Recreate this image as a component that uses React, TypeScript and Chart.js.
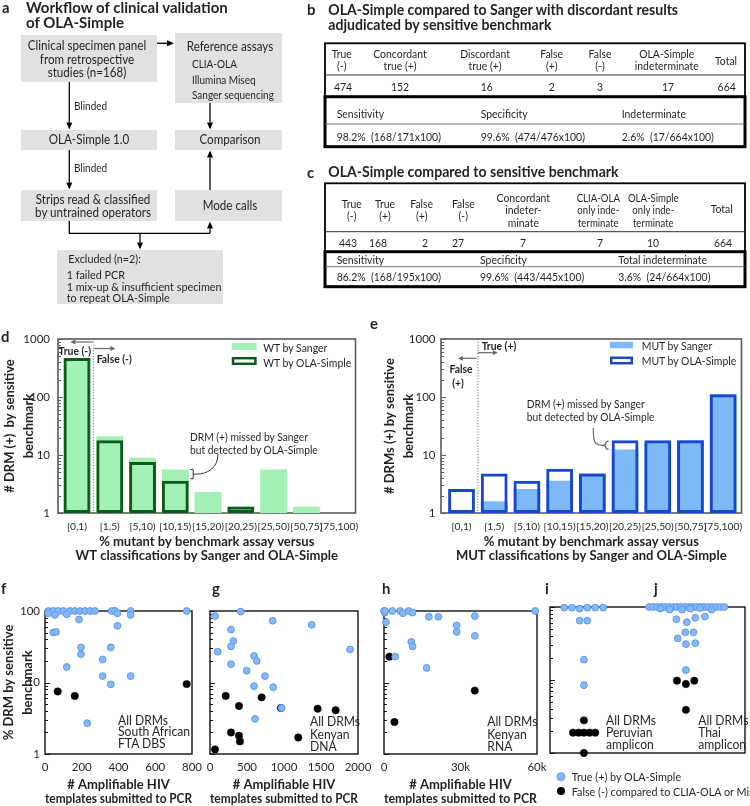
import React, { useEffect, useRef } from 'react';
import { Chart, registerables } from 'chart.js';

Chart.register(...registerables);

const FONT = 'Lato, "Noto Sans", sans-serif';
const W = 750;
const H = 806;
const INK = '#231f20';
Chart.defaults.font.family = FONT;
Chart.defaults.color = INK;

// ---------- panels d / e : # DRMs per % mutant bin ----------
const binLabels = ['[0,1)', '[1,5)', '[5,10)', '[10,15)', '[15,20)', '[20,25)', '[25,50)', '[50,75)', '[75,100)'];
const wtSanger = [470, 21, 9, 5.6, 2.3, 1.3, 5.6, 1.28, null];
const wtOla = [470, 18, 7.6, 3.6, null, 1.3, null, null, null];
const mutSanger = [null, 1.6, 2.6, 3.6, 4.8, 12.5, 16.5, 18, 112];
const mutOla = [2.6, 4.8, 3.6, 5.8, 4.8, 18, 18, 18, 112];
const barYTicks = [1, 10, 100, 1000];

// ---------- panels f-j : [templates (or column offset), % DRM] ----------
const fTrue = [[18, 100], [45, 100], [72, 100], [100, 100], [136, 100], [163, 100], [190, 100], [218, 100], [245, 100], [272, 100], [363, 100], [381, 100], [466, 100], [771, 100], [18, 93], [54, 88], [118, 90], [394, 93], [466, 88], [185, 76], [394, 62], [45, 50], [60, 51], [196, 31], [196, 25], [358, 31], [314, 21], [118, 16.5], [314, 12.3], [466, 12.3], [358, 9.4], [230, 2.7]];
const fFalse = [[69, 7.5], [162, 6.5], [771, 9.5]];
const fXTicks = [0, 200, 400, 600, 800];

const gTrue = [[68, 85], [415, 98], [847, 73], [1374, 64], [1892, 29], [104, 27], [284, 55], [315, 38], [284, 32], [284, 18], [595, 23.5], [631, 20], [496, 14.6], [743, 12.3], [595, 8.9], [855, 8.6], [608, 3.1], [969, 4.4]];
const gFalse = [[212, 6.5], [698, 6.2], [392, 4.7], [284, 2.0], [392, 1.8], [405, 1.5], [68, 1.16], [959, 4.4], [1455, 4.3], [1698, 4.1], [1193, 1.7]];
const gXTicks = [0, 500, 1000, 1500, 2000];

const hTrue = [[0, 100], [300, 95], [400, 100], [3300, 100], [6350, 100], [9650, 100], [7400, 93], [11200, 95], [800, 70], [17600, 83], [21300, 83], [28500, 63], [28500, 51], [35600, 85], [35600, 45], [59300, 100], [10700, 37], [11200, 32], [4400, 23], [16700, 16]];
const hFalse = [[2100, 23], [35600, 7.7], [4100, 2.8]];
const hXTicks = [0, 30000, 60000];
const hXLabels = ['0', '30k', '60k'];

const ijTrue = [[7.3, 98], [11.3, 98], [19.1, 98], [23.2, 98], [27.3, 98], [15.2, 95], [15.2, 65], [19.1, 65], [17.4, 19], [17.4, 8.5],
  [50.8, 100], [52.8, 100], [54.9, 100], [56.9, 100], [58.9, 100], [61.0, 100], [63.0, 100], [65.0, 100], [67.0, 100], [69.1, 100], [71.1, 100], [73.1, 100], [75.2, 100], [77.2, 100], [79.2, 100], [81.2, 100], [83.3, 100], [85.3, 100], [87.3, 100], [89.4, 100],
  [56.7, 95], [61.3, 92], [67.7, 92], [71.9, 95], [77, 97], [82.9, 92], [79.5, 74], [74.5, 71], [64.8, 68], [70.2, 62], [69.4, 45], [73.6, 45], [65.5, 37], [69.7, 31], [74.5, 32], [69.7, 13.7]];
const ijFalse = [[17.4, 2.8], [11.8, 1.9], [14.7, 1.9], [17.4, 1.9], [20.3, 1.9], [23.2, 1.9], [17.4, 1.0],
  [65.1, 9.8], [69.7, 8.8], [74, 9.8], [69.7, 3.9]];
const dotYTicks = [1, 10, 100];

const BLUE = '#86b8f6';
const BLUE_EDGE = '#5c98ec';
const BAR_PCT = 0.82;

const noPlugins = { legend: { display: false }, tooltip: { enabled: false }, title: { display: false } };

function cArrow(ctx: any, x1: number, y1: number, x2: number, y2: number, color: string) {
  const ang = Math.atan2(y2 - y1, x2 - x1);
  const h = 5, hw = 2.4;
  const bx = x2 - h * Math.cos(ang), by = y2 - h * Math.sin(ang);
  ctx.strokeStyle = color; ctx.fillStyle = color; ctx.lineWidth = 1.2;
  ctx.beginPath(); ctx.moveTo(x1, y1); ctx.lineTo(bx, by); ctx.stroke();
  ctx.beginPath(); ctx.moveTo(x2, y2);
  ctx.lineTo(bx - Math.sin(ang) * hw, by + Math.cos(ang) * hw);
  ctx.lineTo(bx + Math.sin(ang) * hw, by - Math.cos(ang) * hw);
  ctx.closePath(); ctx.fill();
}

function decor(frameColor: string, frameWidth: number, extra?: (c: any) => void) {
  return {
    id: 'decor',
    beforeDatasetsDraw(chart: any) {
      const { ctx, chartArea: a } = chart;
      const y = chart.scales.y;
      ctx.save();
      ctx.strokeStyle = frameColor;
      ctx.lineWidth = frameWidth;
      ctx.strokeRect(a.left, a.top, a.right - a.left, a.bottom - a.top);
      ctx.lineWidth = 1;
      const lo = Math.round(Math.log10(y.min));
      const hi = Math.round(Math.log10(y.max));
      for (let d = lo; d <= hi; d++) {
        for (let m = 1; m <= 9; m++) {
          const v = m * Math.pow(10, d);
          if (v > y.max * 1.0001) continue;
          const py = Math.round(y.getPixelForValue(v)) + 0.5;
          const len = m === 1 ? 5 : 3;
          ctx.beginPath(); ctx.moveTo(a.left, py); ctx.lineTo(a.left + len, py); ctx.stroke();
        }
      }
      ctx.restore();
    },
    afterDatasetsDraw(chart: any) {
      if (extra) { chart.ctx.save(); extra(chart); chart.ctx.restore(); }
    },
  };
}

const tickFont = { family: FONT, size: 11.5 };
const titleFont = (lh: number) => ({ family: FONT, size: 13, weight: 'bold' as const, lineHeight: lh });

function logY(max: number, ticks: number[], yw: number, showLabels: boolean, title: string[] | null, pad: number, lh = 1.45) {
  return {
    type: 'logarithmic', min: 1, max,
    afterBuildTicks: (s: any) => { s.ticks = ticks.map((v) => ({ value: v })); },
    afterFit: (s: any) => { s.width = yw; },
    ticks: { display: showLabels, padding: pad, autoSkip: false, font: tickFont, color: INK, callback: (v: any) => String(v) },
    grid: { display: false, drawTicks: false },
    border: { display: false },
    title: title ? { display: true, text: title, padding: 0, color: INK, font: titleFont(lh) } : { display: false },
  };
}

function linX(min: number, max: number, ticks: number[], labels: string[] | null, xh: number, title: string[] | null, pad: number, fontSize = 11.5) {
  return {
    type: 'linear', min, max, offset: false,
    afterBuildTicks: (s: any) => { s.ticks = ticks.map((v) => ({ value: v })); },
    afterFit: (s: any) => { s.height = xh; },
    ticks: { display: !!labels, padding: pad, autoSkip: false, maxRotation: 0, minRotation: 0, font: { family: FONT, size: fontSize }, color: INK, callback: (_v: any, i: number) => (labels ? labels[i] : '') },
    grid: { display: false, drawTicks: false },
    border: { display: false },
    title: title ? { display: true, text: title, padding: 0, color: INK, font: titleFont(1.1) } : { display: false },
  };
}

function toXY(arr: (number | null)[]) {
  return arr.map((v, i) => (v == null ? null : { x: i, y: v })).filter(Boolean);
}

function barConfig(kind: 'd' | 'e') {
  const isD = kind === 'd';
  const L = isD ? 58 : 441, R = isD ? 355.5 : 741.5, T = 339, B = 513;
  const yw = isD ? 58 : 60.5;
  const xh = 50;
  const sanger = isD ? wtSanger : mutSanger;
  const ola = isD ? wtOla : mutOla;
  const fill = isD ? '#a2f0b5' : '#7cb9f6';
  const edge = isD ? '#0e5a1c' : '#1748c9';
  const extra = (chart: any) => {
    const { ctx, chartArea: a, scales: { x, y } } = chart;
    const dx = x.getPixelForValue(0.5);
    ctx.setLineDash([1.2, 1.6]); ctx.strokeStyle = '#666'; ctx.lineWidth = 0.9;
    ctx.beginPath(); ctx.moveTo(dx, a.top); ctx.lineTo(dx, a.bottom); ctx.stroke();
    ctx.setLineDash([]);
    const unit = x.getPixelForValue(1) - x.getPixelForValue(0);
    const half = unit * BAR_PCT / 2;
    ctx.strokeStyle = '#333'; ctx.lineWidth = 1;
    if (isD) {
      cArrow(ctx, dx - 1, a.top + 3, dx - 23, a.top + 3, '#666');
      cArrow(ctx, dx + 1, a.top + 9.5, dx + 22, a.top + 9.5, '#666');
      const bx = x.getPixelForValue(3) + half + 4.5;
      const yt = y.getPixelForValue(wtSanger[3] as number);
      const yb = y.getPixelForValue(wtOla[3] as number) - 2;
      const ym = (yt + yb) / 2;
      ctx.strokeStyle = '#333'; ctx.lineWidth = 1;
      ctx.beginPath();
      ctx.moveTo(bx - 3, yt); ctx.lineTo(bx, yt); ctx.lineTo(bx, yb); ctx.lineTo(bx - 3, yb);
      ctx.moveTo(bx, ym); ctx.lineTo(bx + 3, ym);
      ctx.bezierCurveTo(bx + 14, ym, 218, ym - 6, 218, 454);
      ctx.stroke();
    } else {
      cArrow(ctx, dx, a.top + 13.7, dx + 20, a.top + 13.7, '#666');
      cArrow(ctx, dx - 1.5, a.top + 19.3, dx - 20, a.top + 19.3, '#666');
      const bx = x.getPixelForValue(5) - half - 6;
      const yt = y.getPixelForValue(mutOla[5] as number) + 1;
      const yb = y.getPixelForValue(mutSanger[5] as number);
      const ym = (yt + yb) / 2;
      ctx.beginPath();
      ctx.moveTo(bx + 3, yt); ctx.quadraticCurveTo(bx, yt, bx, yt + 3);
      ctx.lineTo(bx, ym - 2); ctx.quadraticCurveTo(bx, ym, bx - 3, ym);
      ctx.quadraticCurveTo(bx, ym, bx, ym + 2);
      ctx.lineTo(bx, yb - 3); ctx.quadraticCurveTo(bx, yb, bx + 3, yb);
      ctx.moveTo(bx - 3, ym);
      ctx.bezierCurveTo(bx - 12, ym, 593.3, ym - 5, 593.3, 428);
      ctx.stroke();
    }
  };
  return {
    type: 'bar',
    data: {
      datasets: [
        { label: isD ? 'WT by OLA-Simple' : 'MUT by OLA-Simple', data: toXY(ola), backgroundColor: 'rgba(0,0,0,0)', borderColor: edge, borderWidth: 3, borderSkipped: false, grouped: false, barPercentage: BAR_PCT, categoryPercentage: 1, order: 0 },
        { label: isD ? 'WT by Sanger' : 'MUT by Sanger', data: toXY(sanger), backgroundColor: fill, borderWidth: 0, grouped: false, barPercentage: BAR_PCT, categoryPercentage: 1, order: 1 },
      ],
    },
    options: {
      responsive: false, animation: false, devicePixelRatio: 1, events: [],
      layout: { padding: { left: L - yw, top: T, right: W - R, bottom: H - B - xh } },
      plugins: noPlugins,
      scales: {
        x: linX(isD ? -0.58 : -0.627, isD ? 8.5 : 8.56, binLabels.map((_, i) => i), binLabels, xh,
          ['% mutant by benchmark assay versus', isD ? 'WT classifications by Sanger and OLA-Simple' : 'MUT classifications by Sanger and OLA-Simple'], 7, 10.3),
        y: logY(1000, barYTicks, yw, true, [isD ? '# DRM (+)  by sensitive' : '# DRMs (+) by sensitive', 'benchmark'], isD ? 8 : 5.5, 1.46),
      },
    },
    plugins: [decor('#5a5a5a', 1.6, extra)],
  };
}

function dotConfig(p: { L: number; T: number; R: number; B: number; yw: number; xh: number; xMin: number; xMax: number; xTicks: number[]; xLabels: string[] | null; yLabels: boolean; yTitle: string[] | null; xTitle: string[] | null; pos: number[][]; neg: number[][] }) {
  return {
    type: 'scatter',
    data: {
      datasets: [
        { data: p.pos.map(([x, y]) => ({ x, y })), pointRadius: 3.4, pointBackgroundColor: BLUE, pointBorderColor: BLUE_EDGE, pointBorderWidth: 1, clip: false },
        { data: p.neg.map(([x, y]) => ({ x, y })), pointRadius: 3.7, pointBackgroundColor: '#000', pointBorderColor: '#000', pointBorderWidth: 0.5, clip: false },
      ],
    },
    options: {
      responsive: false, animation: false, devicePixelRatio: 1, events: [],
      layout: { padding: { left: p.L - p.yw, top: p.T, right: W - p.R, bottom: H - p.B - p.xh } },
      plugins: noPlugins,
      scales: {
        x: linX(p.xMin, p.xMax, p.xTicks, p.xLabels, p.xh, p.xTitle, 6.5),
        y: logY(100, dotYTicks, p.yw, p.yLabels, p.yTitle, 5, 1.42),
      },
    },
    plugins: [decor('#111', 1.4)],
  };
}

const XT = ['# Amplifiable HIV', 'templates submitted to PCR'];

const chartBuilders = [
  () => barConfig('d'),
  () => barConfig('e'),
  () => dotConfig({ L: 45, T: 611, R: 192, B: 754, yw: 45, xh: 52, xMin: 0, xMax: 800, xTicks: fXTicks, xLabels: fXTicks.map(String), yLabels: true, yTitle: ['% DRM by sensitive', 'benchmark'], xTitle: XT, pos: fTrue, neg: fFalse }),
  () => dotConfig({ L: 210, T: 611, R: 358, B: 754, yw: 0, xh: 52, xMin: 0, xMax: 2000, xTicks: gXTicks, xLabels: gXTicks.map(String), yLabels: false, yTitle: null, xTitle: XT, pos: gTrue, neg: gFalse }),
  () => dotConfig({ L: 384, T: 611, R: 537, B: 754, yw: 0, xh: 52, xMin: 0, xMax: 60000, xTicks: hXTicks, xLabels: hXLabels, yLabels: false, yTitle: null, xTitle: XT, pos: hTrue, neg: hFalse }),
  () => dotConfig({ L: 550, T: 607, R: 747, B: 753, yw: 0, xh: 0, xMin: 0, xMax: 100, xTicks: [], xLabels: null, yLabels: false, yTitle: null, xTitle: null, pos: ijTrue, neg: ijFalse }),
];

function ChartLayer({ build }: { build: () => any }) {
  const ref = useRef<HTMLCanvasElement>(null);
  useEffect(() => {
    const chart = new Chart(ref.current as HTMLCanvasElement, build());
    return () => chart.destroy();
  }, []);
  return <canvas ref={ref} width={W} height={H} style={{ position: 'absolute', left: 0, top: 0, width: W, height: H }} />;
}

// ---------- SVG helpers ----------
function Tx(p: { x: number; y: number; s?: number; b?: boolean; a?: 'start' | 'middle' | 'end'; c?: string; k?: number; children: any }) {
  const k = p.k ?? (p.b ? 0.96 : 0.87);
  return (
    <text x={0} y={0} transform={`translate(${p.x} ${p.y}) scale(${k} 1)`} fontSize={p.s ?? 12} fontWeight={p.b ? 700 : 400} textAnchor={p.a ?? 'start'} dominantBaseline="central" fill={p.c ?? INK} fontFamily={FONT} style={{ whiteSpace: 'pre' }}>
      {p.children}
    </text>
  );
}

function Arrow({ x1, y1, x2, y2 }: { x1: number; y1: number; x2: number; y2: number }) {
  const ang = Math.atan2(y2 - y1, x2 - x1);
  const h = 7, hw = 3;
  const bx = x2 - h * Math.cos(ang), by = y2 - h * Math.sin(ang);
  const px = -Math.sin(ang) * hw, py = Math.cos(ang) * hw;
  return (
    <g>
      <line x1={x1} y1={y1} x2={bx} y2={by} stroke="#000" strokeWidth={1.3} />
      <polygon points={`${x2},${y2} ${bx + px},${by + py} ${bx - px},${by - py}`} fill="#000" />
    </g>
  );
}

const BOX = '#e1e1e1';
const TS = 12; // table text size
const NK = 0.97; // in-plot note compression

function Overlay() {
  return (
    <svg width={W} height={H} style={{ position: 'absolute', left: 0, top: 0 }}>
      {/* ---- panel a ---- */}
      <Tx x={2} y={6.5} s={15.5} b>a</Tx>
      <Tx x={26} y={6.5} s={15} b k={1}>Workflow of clinical validation</Tx>
      <Tx x={26} y={21.5} s={15} b k={1}>of OLA-Simple</Tx>
      <rect x={21} y={35} width={136} height={47} fill={BOX} />
      <rect x={175} y={33} width={107} height={70} fill={BOX} />
      <rect x={21} y={130} width={136} height={20} fill={BOX} />
      <rect x={175} y={130} width={107} height={20} fill={BOX} />
      <rect x={21} y={190} width={136} height={31} fill={BOX} />
      <rect x={175} y={190} width={107} height={31} fill={BOX} />
      <rect x={57} y={250} width={166} height={54} fill={BOX} />
      <Tx x={87} y={45.7} a="middle" s={12.5} k={0.93}>Clinical specimen panel</Tx>
      <Tx x={87} y={59.3} a="middle" s={12.5} k={0.93}>from retrospective</Tx>
      <Tx x={87} y={72.7} a="middle" s={12.5} k={0.93}>studies (n=168)</Tx>
      <Tx x={230} y={46.7} a="middle" s={12.5} k={0.93}>Reference assays</Tx>
      <Tx x={192} y={63.3} s={11.5}>CLIA-OLA</Tx>
      <Tx x={192} y={79} s={11.5}>Illumina Miseq</Tx>
      <Tx x={192} y={94.3} s={11.5}>Sanger sequencing</Tx>
      <Tx x={89} y={139.3} a="middle" s={12.5} k={0.93}>OLA-Simple 1.0</Tx>
      <Tx x={230} y={139.3} a="middle" s={12.5} k={0.93}>Comparison</Tx>
      <Tx x={93} y={199} a="middle" s={12.5} k={0.93}>Strips read &amp; classified</Tx>
      <Tx x={93} y={212.3} a="middle" s={12.5} k={0.93}>by untrained operators</Tx>
      <Tx x={230} y={205.7} a="middle" s={12.5} k={0.93}>Mode calls</Tx>
      <Tx x={68.3} y={258.3} s={11.5} k={0.94}>Excluded (n=2):</Tx>
      <Tx x={66.7} y={274.3} s={11.5} k={0.94}>1 failed PCR</Tx>
      <Tx x={66.7} y={286.3} s={11.5} k={0.94}>1 mix-up &amp; insufficient specimen</Tx>
      <Tx x={66.7} y={296.9} s={11.5} k={0.94}>to repeat OLA-Simple</Tx>
      <Tx x={74} y={105} s={11.5}>Blinded</Tx>
      <Tx x={74} y={167.3} s={11.5}>Blinded</Tx>
      <Arrow x1={157} y1={43.3} x2={174} y2={43.3} />
      <Arrow x1={69.3} y1={82} x2={69.3} y2={129.5} />
      <Arrow x1={69.3} y1={150} x2={69.3} y2={189.5} />
      <Arrow x1={210} y1={103} x2={210} y2={129.5} />
      <Arrow x1={210} y1={190} x2={210} y2={150.5} />
      <polyline points="69.3,221 69.3,233.3 210,233.3" fill="none" stroke="#000" strokeWidth={1.3} />
      <Arrow x1={210} y1={233.3} x2={210} y2={221.5} />
      <Arrow x1={140} y1={233.3} x2={140} y2={249.5} />

      {/* ---- panel b ---- */}
      <Tx x={307} y={9.3} s={15.5} b>b</Tx>
      <Tx x={328.3} y={9.3} s={15} b k={0.94}>OLA-Simple compared to Sanger with discordant results</Tx>
      <Tx x={328.3} y={24} s={15} b k={0.94}>adjudicated by sensitive benchmark</Tx>
      <rect x={325} y={43.3} width={420} height={103.4} fill="none" stroke="#000" strokeWidth={1.8} />
      <line x1={325} y1={75} x2={745} y2={75} stroke="#333" strokeWidth={1} />
      <rect x={325} y={96.7} width={420} height={50} fill="none" stroke="#000" strokeWidth={3} />
      <line x1={325} y1={124} x2={745} y2={124} stroke="#555" strokeWidth={0.8} />
      <Tx s={TS} x={341.7} y={53.3} a="middle">True</Tx><Tx s={TS} x={341.7} y={65} a="middle">(-)</Tx>
      <Tx s={TS} x={400} y={53.3} a="middle">Concordant</Tx><Tx s={TS} x={400} y={65} a="middle">true (+)</Tx>
      <Tx s={TS} x={485} y={53.3} a="middle">Discordant</Tx><Tx s={TS} x={485} y={65} a="middle">true (+)</Tx>
      <Tx s={TS} x={551.7} y={53.3} a="middle">False</Tx><Tx s={TS} x={551.7} y={65} a="middle">(+)</Tx>
      <Tx s={TS} x={600} y={53.3} a="middle">False</Tx><Tx s={TS} x={600} y={65} a="middle">(-)</Tx>
      <Tx s={TS} x={666.7} y={53.3} a="middle">OLA-Simple</Tx><Tx s={TS} x={666.7} y={65} a="middle">indeterminate</Tx>
      <Tx s={TS} x={726} y={60} a="middle">Total</Tx>
      <Tx s={TS} x={343} y={86} a="middle">474</Tx>
      <Tx s={TS} x={400} y={86} a="middle">152</Tx>
      <Tx s={TS} x={486.7} y={86} a="middle">16</Tx>
      <Tx s={TS} x={551.7} y={86} a="middle">2</Tx>
      <Tx s={TS} x={600} y={86} a="middle">3</Tx>
      <Tx s={TS} x={668} y={86} a="middle">17</Tx>
      <Tx s={TS} x={726.7} y={86} a="middle">664</Tx>
      <Tx s={TS} x={336.7} y={112.7}>Sensitivity</Tx>
      <Tx s={TS} x={480.7} y={112.7}>Specificity</Tx>
      <Tx s={TS} x={621.7} y={112.7}>Indeterminate</Tx>
      <Tx s={TS} x={336.7} y={136}>98.2%  (168/171x100)</Tx>
      <Tx s={TS} x={480.7} y={136}>99.6%  (474/476x100)</Tx>
      <Tx s={TS} x={621.7} y={136}>2.6%  (17/664x100)</Tx>

      {/* ---- panel c ---- */}
      <Tx x={307} y={171.7} s={15.5} b>c</Tx>
      <Tx x={328.3} y={171.7} s={15} b k={0.94}>OLA-Simple compared to sensitive benchmark</Tx>
      <rect x={325} y={183.3} width={420} height={103.4} fill="none" stroke="#000" strokeWidth={1.8} />
      <line x1={325} y1={231.7} x2={745} y2={231.7} stroke="#333" strokeWidth={1} />
      <rect x={325} y={251.7} width={420} height={35} fill="none" stroke="#000" strokeWidth={3} />
      <line x1={325} y1={266.7} x2={745} y2={266.7} stroke="#555" strokeWidth={0.8} />
      <Tx s={TS} x={351.7} y={203.3} a="middle">True</Tx><Tx s={TS} x={351.7} y={215} a="middle">(-)</Tx>
      <Tx s={TS} x={385} y={203.3} a="middle">True</Tx><Tx s={TS} x={385} y={215} a="middle">(+)</Tx>
      <Tx s={TS} x={421.7} y={203.3} a="middle">False</Tx><Tx s={TS} x={421.7} y={215} a="middle">(+)</Tx>
      <Tx s={TS} x={463.3} y={203.3} a="middle">False</Tx><Tx s={TS} x={463.3} y={215} a="middle">(-)</Tx>
      <Tx s={TS} x={523.3} y={196.7} a="middle">Concordant</Tx><Tx s={TS} x={523.3} y={209} a="middle">indeter-</Tx><Tx s={TS} x={523.3} y={221.7} a="middle">minate</Tx>
      <Tx s={TS} x={598.3} y={196.7} a="middle" k={0.8}>CLIA-OLA</Tx><Tx s={TS} x={598.3} y={209} a="middle" k={0.8}>only inde-</Tx><Tx s={TS} x={598.3} y={221.7} a="middle" k={0.8}>terminate</Tx>
      <Tx s={TS} x={653.3} y={196.7} a="middle" k={0.8}>OLA-Simple</Tx><Tx s={TS} x={653.3} y={209} a="middle" k={0.8}>only inde-</Tx><Tx s={TS} x={653.3} y={221.7} a="middle" k={0.8}>terminate</Tx>
      <Tx s={TS} x={721.7} y={208.3} a="middle">Total</Tx>
      <Tx s={TS} x={348} y={241.7} a="middle">443</Tx>
      <Tx s={TS} x={378} y={241.7} a="middle">168</Tx>
      <Tx s={TS} x={425} y={241.7} a="middle">2</Tx>
      <Tx s={TS} x={458} y={241.7} a="middle">27</Tx>
      <Tx s={TS} x={523} y={241.7} a="middle">7</Tx>
      <Tx s={TS} x={600} y={241.7} a="middle">7</Tx>
      <Tx s={TS} x={653} y={241.7} a="middle">10</Tx>
      <Tx s={TS} x={723} y={241.7} a="middle">664</Tx>
      <Tx s={TS} x={336.7} y={259.5}>Sensitivity</Tx>
      <Tx s={TS} x={480} y={259.5}>Specificity</Tx>
      <Tx s={TS} x={618.3} y={259.5}>Total indeterminate</Tx>
      <Tx s={TS} x={336.7} y={276}>86.2%  (168/195x100)</Tx>
      <Tx s={TS} x={480} y={276}>99.6%  (443/445x100)</Tx>
      <Tx s={TS} x={618.3} y={276}>3.6%  (24/664x100)</Tx>

      {/* ---- panel d extras ---- */}
      <Tx x={1} y={336} s={15.5} b>d</Tx>
      <rect x={231.7} y={343} width={25} height={7} fill="#a2f0b5" />
      <Tx x={263.3} y={346.7} s={12}>WT by Sanger</Tx>
      <rect x={233} y={358.2} width={22.4} height={5.6} fill="#fff" stroke="#0e5a1c" strokeWidth={2.5} />
      <Tx x={263.3} y={361.7} s={12}>WT by OLA-Simple</Tx>
      <Tx x={91} y={350.7} s={11.5} b a="end" k={0.9}>True (-)</Tx>
      <Tx x={96.7} y={358.3} s={11.5} b k={0.9}>False (-)</Tx>
      <Tx x={190} y={436} s={11.8}>DRM (+) missed by Sanger</Tx>
      <Tx x={190} y={449.3} s={11.8}>but detected by OLA-Simple</Tx>

      {/* ---- panel e extras ---- */}
      <Tx x={370} y={323.3} s={15.5} b>e</Tx>
      <rect x={610} y={341.7} width={23} height={6.6} fill="#7cb9f6" />
      <Tx x={641.7} y={345} s={12}>MUT by Sanger</Tx>
      <rect x={611.2} y={357.8} width={20.6} height={5.4} fill="#fff" stroke="#1748c9" strokeWidth={2.5} />
      <Tx x={641.7} y={360} s={12}>MUT by OLA-Simple</Tx>
      <Tx x={481.7} y={345} s={11.5} b k={0.9}>True (+)</Tx>
      <Tx x={461} y={368.3} s={11.5} b a="middle" k={0.9}>False</Tx>
      <Tx x={458} y={382.7} s={11.5} b a="middle" k={0.9}>(+)</Tx>
      <Tx x={526.7} y={403.3} s={11.8}>DRM (+) missed by Sanger</Tx>
      <Tx x={526.7} y={416} s={11.8}>but detected by OLA-Simple</Tx>

      {/* ---- panels f-j extras ---- */}
      <Tx x={1} y={588.3} s={15.5} b>f</Tx>
      <Tx x={212} y={588.3} s={15.5} b>g</Tx>
      <Tx x={382} y={588.3} s={15.5} b>h</Tx>
      <Tx x={545} y={588.3} s={15.5} b>i</Tx>
      <Tx x={654} y={588.3} s={15.5} b>j</Tx>
      <Tx x={118} y={720} s={12.5} k={NK}>All DRMs</Tx>
      <Tx x={118} y={731.7} s={12.5} k={NK}>South African</Tx>
      <Tx x={118} y={743.3} s={12.5} k={NK}>FTA DBS</Tx>
      <Tx x={310} y={721.7} s={12.5} k={NK}>All DRMs</Tx>
      <Tx x={310} y={734.3} s={12.5} k={NK}>Kenyan</Tx>
      <Tx x={310} y={746.7} s={12.5} k={NK}>DNA</Tx>
      <Tx x={487.3} y={721.7} s={12.5} k={NK}>All DRMs</Tx>
      <Tx x={487.3} y={734.3} s={12.5} k={NK}>Kenyan</Tx>
      <Tx x={487.3} y={746.7} s={12.5} k={NK}>RNA</Tx>
      <Tx x={606} y={720} s={12.5} k={NK}>All DRMs</Tx>
      <Tx x={606} y={732.3} s={12.5} k={NK}>Peruvian</Tx>
      <Tx x={606} y={744.3} s={12.5} k={NK}>amplicon</Tx>
      <Tx x={698.3} y={720} s={12.5} k={NK}>All DRMs</Tx>
      <Tx x={698.3} y={732.3} s={12.5} k={NK}>Thai</Tx>
      <Tx x={698.3} y={744.3} s={12.5} k={NK}>amplicon</Tx>
      <circle cx={561} cy={776.7} r={4} fill={BLUE} stroke={BLUE_EDGE} strokeWidth={1} />
      <Tx x={571.7} y={776.7} s={12} k={0.9}>True (+) by OLA-Simple</Tx>
      <circle cx={561} cy={791} r={4} fill="#000" />
      <Tx x={571.7} y={791} s={12} k={0.9}>False (-) compared to CLIA-OLA or Miseq</Tx>
    </svg>
  );
}

export default function App() {
  return (
    <div style={{ position: 'absolute', left: 0, top: 0, width: W, height: H, background: '#fff', overflow: 'hidden' }}>
      {chartBuilders.map((b, i) => <ChartLayer key={i} build={b} />)}
      <Overlay />
    </div>
  );
}
